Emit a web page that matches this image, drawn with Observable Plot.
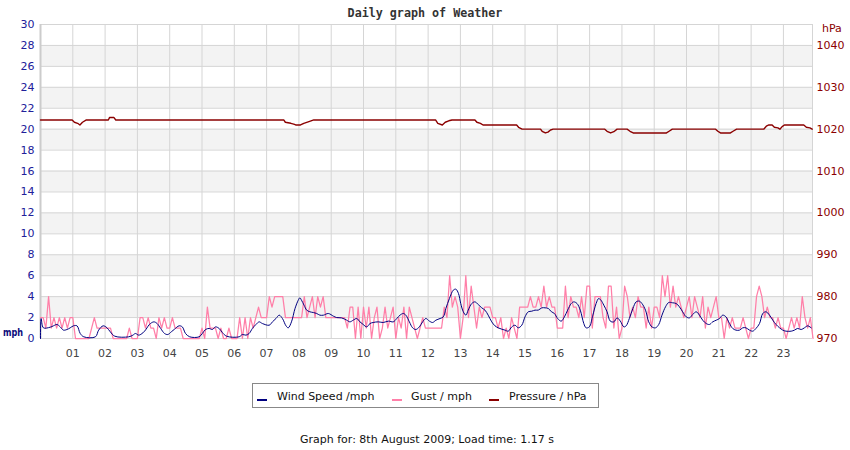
<!DOCTYPE html>
<html>
<head>
<meta charset="utf-8">
<script src="https://cdn.jsdelivr.net/npm/d3@7"></script>
<script src="https://cdn.jsdelivr.net/npm/@observablehq/plot@0.6"></script>
<style>
  html, body { margin: 0; padding: 0; background: #fff; }
  #wrap { position: relative; width: 850px; height: 450px; font-family: "DejaVu Sans", sans-serif; }
  #chart { position: absolute; left: 0; top: 0; }
  .abs { position: absolute; white-space: nowrap; }
  #title { left: 0; width: 850px; top: 7px; text-align: center; font: bold 11.7px/12px "DejaVu Sans Mono", monospace; color: #333; }
  #mph { left: 3px; top: 327px; font: bold 11px/11px "DejaVu Sans", sans-serif; color: #0a0a7a; transform: scaleX(0.74); transform-origin: left center; }
  #hpa { left: 822px; top: 23px; font: 11px/11px "DejaVu Sans", sans-serif; color: #8b0000; }
  #legend { left: 252px; top: 383px; width: 345px; height: 23px; border: 1px solid #888; background: #fff; }
  .sw { position: absolute; top: 15px; width: 10px; height: 2px; }
  .lt { position: absolute; top: 7px; font: 11px/11px "DejaVu Sans", sans-serif; color: #111; }
  #caption { left: 0; width: 850px; top: 434px; text-align: center; font: 11px/11px "DejaVu Sans", sans-serif; color: #111; padding-left: 4px; box-sizing: border-box; }
</style>
</head>
<body>
<div id="wrap">
  <div id="chart"></div>
  <div id="title" class="abs"></div>
  <div id="mph" class="abs"></div>
  <div id="hpa" class="abs"></div>
  <div id="legend" class="abs"></div>
  <div id="caption" class="abs"></div>
</div>
<script>
// ---- text ----
const titleText = "Daily graph of Weather";
const leftUnit = "mph";
const rightUnit = "hPa";
const captionText = "Graph for: 8th August 2009; Load time: 1.17 s";
const seriesNames = ["Wind Speed /mph", "Gust / mph", "Pressure / hPa"];
const seriesColors = ["#000080", "#ff7fa8", "#8b0000"];

// ---- axes ----
const mphTicks = [0, 2, 4, 6, 8, 10, 12, 14, 16, 18, 20, 22, 24, 26, 28, 30];
const shadedBands = [2, 6, 10, 14, 18, 22, 26];
const hpaTicks = [970, 980, 990, 1000, 1010, 1020, 1030, 1040];
const hourTicks = [1, 2, 3, 4, 5, 6, 7, 8, 9, 10, 11, 12, 13, 14, 15, 16, 17, 18, 19, 20, 21, 22, 23];
const hourLabels = ["01","02","03","04","05","06","07","08","09","10","11","12","13","14","15","16","17","18","19","20","21","22","23"];
const dayEnd = 23.9;

// ---- wind speed (hour, mph) ----
const windHour = [0,0.02,0.09,0.3,0.4,0.51,0.61,0.71,0.82,0.92,1.02,1.13,1.23,1.34,1.7,1.8,1.94,2.06,2.16,2.3,2.73,2.86,2.94,3.04,3.17,3.27,3.37,3.51,3.61,3.72,3.84,3.94,4.05,4.15,4.29,4.39,4.49,4.62,4.91,5.01,5.11,5.22,5.32,5.42,5.53,5.63,5.76,6.15,6.25,6.36,6.46,6.56,6.67,6.77,6.87,7.08,7.18,7.29,7.39,7.49,7.6,7.67,7.77,7.88,7.98,8.03,
  8.08,8.16,8.24,8.34,8.45,8.55,8.65,8.76,8.91,9.07,9.17,9.32,9.48,9.58,9.68,9.79,9.89,9.99,10.1,10.2,10.3,10.46,10.61,10.77,10.92,11.03,11.13,11.23,11.31,11.42,11.52,11.62,11.73,11.83,11.93,12.04,12.14,12.24,12.37,12.47,12.55,12.66,12.78,12.86,12.94,13.01,13.09,13.17,13.24,13.35,13.45,13.55,13.66,13.76,13.86,13.97,14.07,14.17,14.28,14.38,14.48,14.59,14.69,14.79,14.9,15.0,15.1,15.21,15.31,15.41,15.52,15.62,15.72,15.82,15.91,
  16.01,16.12,16.22,16.32,16.43,16.51,16.61,16.71,16.82,16.89,16.99,17.1,17.2,17.28,17.35,17.44,17.54,17.64,17.75,17.85,17.95,18.06,18.13,18.23,18.34,18.44,18.54,18.62,18.73,18.83,18.93,19.04,19.14,19.24,19.35,19.45,19.57,19.68,19.78,19.88,19.99,20.09,20.19,20.3,20.4,20.5,20.61,20.71,20.81,20.92,21.02,21.12,21.22,21.33,21.43,21.53,21.64,21.74,21.84,21.95,22.05,22.15,22.26,22.36,22.46,22.57,22.67,22.77,22.88,22.98,23.08,23.24,23.34,23.44,23.55,23.65,23.75,23.86];
const windMph = [0,1.9,1.02,1.08,1.21,1.34,1.11,0.8,0.86,1.02,1.21,1.21,0.48,0.16,0.16,0.8,1.21,1.02,0.64,0.22,0.16,0.32,0.48,0.32,0.54,0.89,1.34,1.59,1.43,0.96,0.48,0.38,0.64,0.89,1.21,1.11,0.48,0.16,0.16,0.48,0.86,0.96,0.86,1.11,0.96,0.57,0.22,0.16,0.38,0.32,0.48,0.96,1.34,1.59,1.43,1.27,1.59,1.91,2.23,1.91,1.21,1.02,1.59,2.87,3.66,3.89,
  3.66,3.18,2.71,2.55,2.48,2.39,2.23,2.23,2.39,2.13,2.0,1.97,1.75,1.59,1.75,1.91,1.59,1.34,1.11,1.43,1.53,1.59,1.53,1.66,1.59,1.91,2.23,2.39,2.23,1.59,1.02,0.86,1.11,1.59,1.91,1.66,1.53,1.75,1.91,2.07,2.87,3.82,4.62,4.71,4.3,3.34,2.55,2.23,2.71,3.34,3.5,3.25,2.93,2.71,2.23,1.59,1.21,1.02,0.89,0.8,0.7,1.11,1.27,1.02,1.27,2.07,2.55,2.61,2.71,2.71,2.93,2.93,2.87,2.55,2.39,
  1.91,1.66,2.07,2.71,3.34,3.5,3.34,2.71,1.43,1.02,1.11,2.23,3.34,3.82,3.66,3.18,2.55,1.66,1.59,1.97,1.66,1.11,1.21,1.91,2.87,3.5,3.57,3.34,2.71,1.59,1.11,1.02,1.34,2.23,3.03,3.44,3.41,3.34,3.03,2.55,2.07,1.97,2.29,2.55,2.23,1.75,1.43,1.34,1.59,1.75,1.91,2.23,2.07,1.43,0.96,0.8,0.8,1.02,1.02,0.8,0.7,0.96,1.43,2.39,2.55,2.23,1.75,1.34,1.02,0.8,0.7,0.7,0.8,0.96,0.86,1.02,1.21,1.02];

// ---- gust (mph, one reading every 5 minutes) ----
const gustMph = [
  2,2,1,4,1,2,1,2,1,2,1,2,
  2,0,0,0,0,0,0,1,2,1,1,1,
  1,1,1,0,0,0,0,0,0,1,0,0,
  0,2,2,1,2,1,1,0,2,1,2,1,
  1,2,1,1,1,0,0,0,0,0,0,0,
  1,0,3,1,1,1,0,1,0,0,1,0,
  0,0,2,0,2,0,2,1,2,3,2,2,
  2,4,3,4,4,4,4,2,2,2,2,2,
  2,2,4,2,3,4,2,4,3,4,2,2,
  2,2,2,2,2,2,1,3,3,0,3,0,
  3,1,3,0,2,3,0,1,3,1,2,3,
  0,2,1,3,0,3,2,1,0,1,2,1,
  1,1,1,1,1,1,3,2,6,3,4,3,
  0,2,6,2,5,3,1,3,2,3,3,3,
  2,2,1,2,0,1,0,2,1,0,3,3,
  3,3,4,3,3,4,3,5,3,4,3,3,
  1,1,1,5,2,4,3,3,2,4,2,5,
  5,1,4,4,4,2,1,5,5,1,3,0,
  1,5,4,2,3,2,4,3,3,1,3,1,
  3,3,2,6,4,6,3,5,3,4,3,2,
  3,4,2,4,3,2,4,1,3,2,3,4,
  2,2,0,2,1,2,1,1,1,2,1,0,
  1,1,4,5,4,2,3,2,2,1,2,1,
  1,0,1,2,1,2,1,4,2,1,2,0];
const gustStepMinutes = 5;

// ---- pressure (hour, hPa) ----
const pressHour = [0,0.98,1.05,1.15,1.22,1.3,1.42,2.1,2.14,2.27,2.33,7.53,7.58,7.75,7.84,7.9,8.05,8.15,8.31,8.46,12.23,12.3,12.44,12.53,12.64,12.74,13.45,13.51,13.62,13.7,14.74,14.8,14.91,15.48,15.53,15.63,15.71,15.79,15.87,17.47,17.54,17.65,17.75,17.85,18.16,18.25,18.35,19.38,19.46,19.56,20.9,20.97,21.05,21.36,21.44,21.55,22.39,22.47,22.55,22.65,22.72,22.83,22.89,22.96,23.03,23.63,23.71,23.82,23.89];
const pressHpa = [1022.2,1022.2,1021.65,1021.4,1021.0,1021.65,1022.2,1022.2,1022.8,1022.8,1022.2,1022.2,1021.65,1021.4,1021.2,1021.0,1021.0,1021.4,1021.8,1022.2,1022.2,1021.4,1021.0,1021.65,1022.0,1022.2,1022.2,1021.65,1021.4,1021.0,1021.0,1020.45,1020.0,1020.0,1019.5,1019.1,1019.3,1019.8,1020.0,1020.0,1019.5,1019.1,1019.4,1020.0,1020.0,1019.5,1019.1,1019.1,1019.5,1020.0,1020.0,1019.5,1019.1,1019.1,1019.5,1020.0,1020.0,1020.7,1021.0,1021.0,1020.45,1020.3,1020.0,1020.6,1021.0,1021.0,1020.45,1020.3,1020.0];

// right axis is aligned with the left one: 970 hPa ↔ 0 mph, 1040 hPa ↔ 28 mph
const hpaBase = hpaTicks[0];
const hpaPerMph = (hpaTicks[hpaTicks.length - 1] - hpaBase) / 28;
const toLeft = p => (p - hpaBase) / hpaPerMph;
const hpaPos = hpaTicks.map(toLeft);

const wind = windHour.map((h, i) => ({h, v: windMph[i]}));
const gust = gustMph.map((v, i) => ({h: i * gustStepMinutes / 60, v}));
const press = pressHour.map((h, i) => ({h, v: toLeft(pressHpa[i])}));

const grid = "#d5d5d5";
const chart = Plot.plot({
  width: 850,
  height: 370,
  marginLeft: 40,
  marginRight: 38,
  marginTop: 24,
  marginBottom: 32,
  x: {domain: [0, dayEnd]},
  y: {domain: [mphTicks[0], mphTicks[mphTicks.length - 1]]},
  style: {fontFamily: "DejaVu Sans, sans-serif", fontSize: "11px", background: "#fff", overflow: "visible"},
  marks: [
    Plot.rect(shadedBands, {y1: d => d, y2: d => d + 2, fill: "#f3f3f3"}),
    Plot.ruleY(mphTicks, {stroke: grid}),
    Plot.ruleX(hourTicks, {stroke: grid}),
    Plot.ruleX([dayEnd], {stroke: grid}),
    Plot.ruleX([0], {stroke: "#cccccc", strokeWidth: 2}),
    Plot.line(gust, {x: "h", y: "v", stroke: seriesColors[1], strokeWidth: 1.25}),
    Plot.line(wind, {x: "h", y: "v", stroke: seriesColors[0], strokeWidth: 1, curve: "catmull-rom"}),
    Plot.line(press, {x: "h", y: "v", stroke: seriesColors[2], strokeWidth: 1.4}),
    Plot.axisY(mphTicks, {anchor: "left", tickSize: 0, tickPadding: 6, color: "#20209a", label: null}),
    Plot.axisY(hpaPos, {anchor: "right", tickSize: 0, tickPadding: 4, color: "#8b0000", label: null,
      tickFormat: d => String(hpaTicks[hpaPos.indexOf(d)])}),
    Plot.axisX(hourTicks, {anchor: "bottom", tickSize: 0, tickPadding: 11, color: "#444", label: null,
      tickFormat: d => hourLabels[hourTicks.indexOf(d)]})
  ]
});
document.getElementById("chart").append(chart);

document.getElementById("title").textContent = titleText;
document.getElementById("mph").textContent = leftUnit;
document.getElementById("hpa").textContent = rightUnit;
document.getElementById("caption").textContent = captionText;

const legend = document.getElementById("legend");
const swatchX = [4, 139, 236];
const labelX = [24, 158, 256];
seriesNames.forEach((name, i) => {
  const sw = document.createElement("div");
  sw.className = "sw";
  sw.style.left = swatchX[i] + "px";
  sw.style.background = seriesColors[i];
  legend.append(sw);
  const t = document.createElement("div");
  t.className = "lt";
  t.style.left = labelX[i] + "px";
  t.textContent = name;
  legend.append(t);
});
</script>
</body>
</html>
